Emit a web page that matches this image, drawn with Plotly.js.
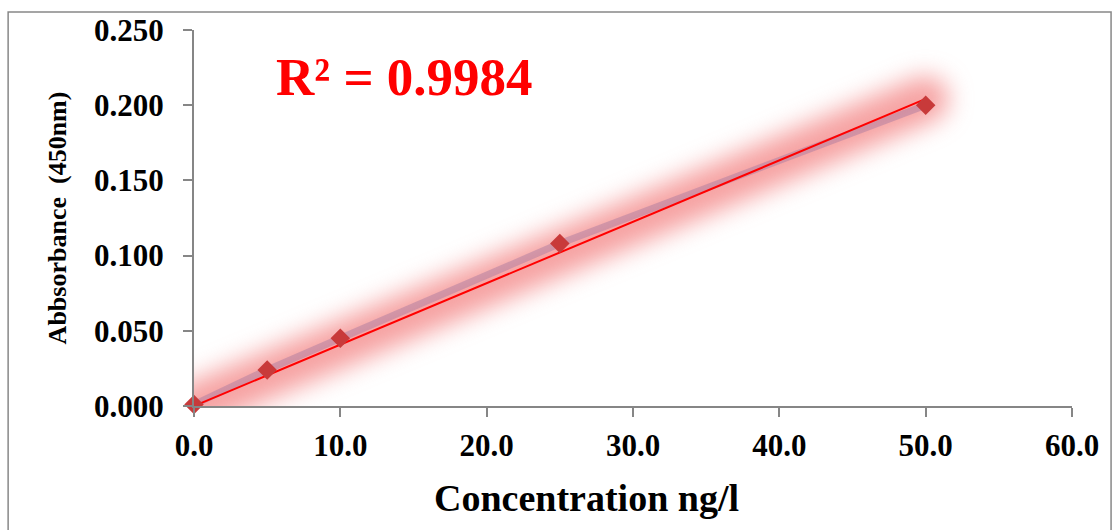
<!DOCTYPE html>
<html><head><meta charset="utf-8">
<script src="https://cdn.plot.ly/plotly-3.0.1.min.js"></script>
<style>
body{margin:0;background:#fff}#chart{width:1112px;height:530px}
.scatterlayer .trace:first-child path.js-line{stroke-linecap:round !important; filter: blur(12px);}
.scatterlayer .trace:nth-child(2) path.js-line{stroke-linejoin:round !important;}
</style>
</head><body><div id="chart"></div>
<script>
// Data
const concentration = [0, 5, 10, 25, 50];
const absorbance = [0.001, 0.024, 0.045, 0.108, 0.200];
const xTicks = [0, 10, 20, 30, 40, 50, 60];
const xTickLabels = ["0.0", "10.0", "20.0", "30.0", "40.0", "50.0", "60.0"];
const yTicks = [0, 0.05, 0.10, 0.15, 0.20, 0.25];
const yTickLabels = ["0.000", "0.050", "0.100", "0.150", "0.200", "0.250"];
const rSquaredText = "R² = 0.9984";
const xTitle = "Concentration ng/l";
const yTitle = "Abbsorbance  (450nm)";

// Linear trendline through origin (least squares)
let sxy = 0, sxx = 0;
for (let i = 0; i < concentration.length; i++) { sxy += concentration[i] * absorbance[i]; sxx += concentration[i] * concentration[i]; }
const slope = sxy / sxx;
const xMin = Math.min(...concentration), xMax = Math.max(...concentration);
const trendX = [xMin, xMax];
const trendY = trendX.map(v => v * slope);

const traces = [];
// glow (blurred via CSS)
traces.push({x: trendX, y: trendY, mode: 'lines', type: 'scatter', hoverinfo: 'skip',
  line: {color: 'rgba(240,100,100,0.6)', width: 46}, showlegend: false});
traces.push({x: concentration, y: absorbance, mode: 'lines', type: 'scatter',
  line: {color: 'rgba(165,120,160,0.45)', width: 7}, showlegend: false, cliponaxis: false});
traces.push({x: trendX, y: trendY, mode: 'lines', type: 'scatter',
  line: {color: '#ff0000', width: 2}, showlegend: false, cliponaxis: false});
traces.push({x: concentration, y: absorbance, mode: 'markers', type: 'scatter',
  marker: {symbol: 'diamond', size: 15, color: '#c83a3a'}, showlegend: false, cliponaxis: false});

const font = {family: 'Liberation Serif, Times New Roman, serif', color: '#000'};
const layout = {
  width: 1112, height: 530,
  margin: {l: 194, r: 40, t: 30, b: 124},
  paper_bgcolor: '#fff', plot_bgcolor: '#fff',
  xaxis: {range: [0, 60], tickvals: xTicks, ticktext: xTickLabels, showgrid: false, zeroline: false,
    showline: true, linecolor: '#868686', linewidth: 2, ticks: 'outside', ticklen: 9, tickcolor: '#868686', tickwidth: 2,
    ticklabelstandoff: 2,
    tickfont: Object.assign({size: 31, weight: 'bold'}, font)},
  yaxis: {range: [0, 0.25], tickvals: yTicks, ticktext: yTickLabels, showgrid: false, zeroline: false,
    showline: true, linecolor: '#868686', linewidth: 2, ticks: 'outside', ticklen: 9, tickcolor: '#868686', tickwidth: 2,
    ticklabelstandoff: 13,
    tickfont: Object.assign({size: 31, weight: 'bold'}, font),
    title: {text: '<b>' + yTitle + '</b>', font: Object.assign({size: 26}, font), standoff: 20}},
  shapes: [{type: 'rect', xref: 'paper', yref: 'paper', x0: -0.2117, x1: 1.0445, y0: -0.40, y1: 1.048,
    line: {color: '#888', width: 1.5}, fillcolor: 'rgba(0,0,0,0)', layer: 'below'}],
  annotations: [
    {xref: 'paper', yref: 'paper', x: 0.091, y: 0.875, xanchor: 'left', yanchor: 'middle',
      text: '<b>' + rSquaredText + '</b>', showarrow: false, font: Object.assign({}, font, {size: 53, color: '#ff0000'})},
    {xref: 'paper', yref: 'paper', x: 0.4465, y: -0.245, xanchor: 'center', yanchor: 'middle',
      text: '<b>' + xTitle + '</b>', showarrow: false, font: Object.assign({}, font, {size: 38})}
  ]
};
Plotly.newPlot('chart', traces, layout, {staticPlot: true, displayModeBar: false});
</script></body></html>
